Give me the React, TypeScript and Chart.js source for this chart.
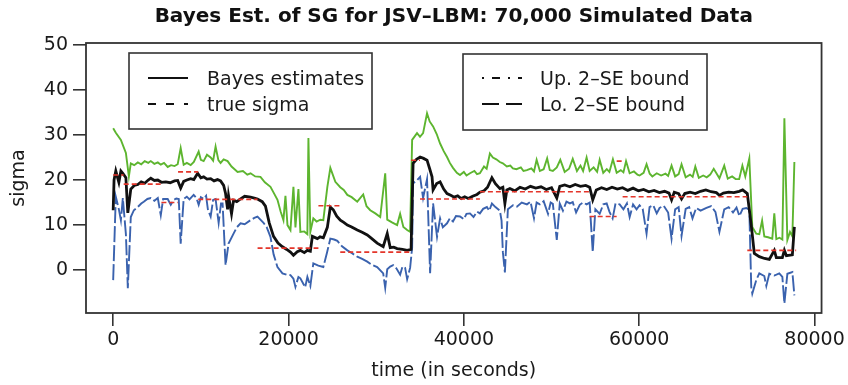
import React, { useEffect, useRef } from "react";
import { Chart, registerables } from "chart.js";

Chart.register(...registerables);

// ---------- data (time in seconds, sigma) ----------
const titleText = "Bayes Est. of SG for JSV–LBM: 70,000 Simulated Data";
const xAxisTitle = "time (in seconds)";
const yAxisTitle = "sigma";
const timeTicks = [0, 20000, 40000, 60000, 80000];
const sigmaTicks = [0, 10, 20, 30, 40, 50];
const legendLeft = ["Bayes estimates", "true sigma"];
const legendRight = ["Up. 2–SE bound", "Lo. 2–SE bound"];

const bayesEstimates: [number, number][] = [
  [0, 13.3], [100, 20], [300, 22], [650, 19.5], [880, 22], [1100, 21.5], [1450, 20.5], [1670, 12.7],
  [2010, 18], [2400, 18.8], [2810, 19], [3200, 19.6], [3600, 19.3], [4000, 20], [4290, 20.4], [4700, 19.9],
  [5090, 20], [5500, 19.5], [6000, 19.6], [6500, 19.4], [7000, 19.8], [7360, 19.9], [7700, 18.2],
  [8040, 19.7], [8400, 20], [8840, 20.3], [9200, 20.1], [9640, 21.5], [10000, 20.5], [10320, 20.7],
  [10700, 20.2], [11120, 20.3], [11500, 19.8], [11900, 20.1], [12250, 19.8], [12600, 18.8], [12820, 17],
  [13050, 13.5], [13160, 16.5], [13500, 12.5], [13730, 15.5], [14100, 15.2], [14530, 15.8], [15000, 16.4],
  [15670, 16.2], [16100, 16], [16460, 15.8], [17000, 15.2], [17370, 14.2], [17800, 10.5], [18290, 7.5],
  [18800, 6], [19310, 5.2], [19800, 4.6], [20220, 4], [20560, 3.3], [21000, 4.1], [21350, 4.4],
  [21800, 3.9], [22150, 4.4], [22490, 4.2], [22720, 7.5], [23290, 7], [23600, 7.4], [23970, 7.2],
  [24430, 9.5], [24770, 14], [25110, 13.4], [25500, 12], [25910, 11.1], [26300, 10.6], [26710, 10],
  [27200, 9.6], [27840, 8.9], [28400, 8.4], [28980, 7.8], [29500, 7], [30110, 6], [30800, 5.2],
  [31260, 8.1], [31600, 5], [32000, 5.1], [32390, 4.8], [33000, 4.6], [33530, 4.4], [33980, 4.6],
  [34100, 15], [34210, 23.7], [34600, 24.6], [35010, 25.1], [35400, 24.8], [35800, 24.4], [36100, 22.5],
  [36370, 20.7], [36490, 17.8], [36900, 19.2], [37290, 19.6], [37700, 18], [38080, 17], [38500, 16.6],
  [38900, 16.2], [39300, 16.5], [39700, 15.9], [40100, 16.3], [40500, 15.9], [41000, 16.4], [41500, 16.8],
  [41830, 17.3], [42300, 17.6], [42700, 18.4], [43200, 20.5], [43600, 19.2], [44110, 18.1], [44450, 18.4],
  [44680, 14.8], [44900, 17.8], [45250, 18.1], [45800, 17.6], [46400, 18.4], [47000, 18], [47600, 18.6],
  [48200, 18.2], [48800, 18.5], [49400, 17.9], [50000, 18.3], [50600, 16], [50940, 18.6], [51500, 18.9],
  [52100, 18.5], [52700, 19], [53300, 18.6], [53900, 18.8], [54350, 18.4], [54700, 15.6], [55100, 17.8],
  [55700, 18.3], [56300, 17.9], [56900, 18.4], [57500, 18], [58100, 18.3], [58700, 17.7], [59300, 18.2],
  [59900, 17.6], [60500, 17.9], [61100, 17.4], [61700, 17.7], [62300, 17.2], [62900, 17.5], [63400, 17.1],
  [63690, 15.6], [64000, 17.3], [64500, 17], [64830, 15.8], [65200, 17], [65800, 17.3], [66400, 17],
  [67000, 17.5], [67600, 17.8], [68200, 17.4], [68800, 17.2], [69150, 16.6], [69600, 17.1], [70200, 17.3],
  [70800, 17.2], [71400, 17.5], [71800, 17.8], [72330, 17], [72780, 10], [73130, 3.7], [73700, 3],
  [74300, 2.6], [74840, 2.4], [75410, 4.4], [75640, 2.8], [76330, 2.8], [76560, 4.4], [76790, 3.2],
  [77470, 3.4], [77700, 9.6],
];

const upperBound: [number, number][] = [
  [0, 31.5], [300, 30.5], [880, 28.9], [1450, 26], [1790, 20.8], [2010, 23.7], [2400, 23.3], [2810, 23.9],
  [3200, 23.5], [3600, 24.2], [4000, 23.8], [4290, 24.2], [4700, 23.6], [5090, 23.9], [5430, 23.4],
  [5800, 23.8], [6220, 22.9], [6600, 23.3], [7000, 23.1], [7360, 23.5], [7700, 27.1], [8040, 23.4],
  [8400, 23.8], [8840, 23.3], [9200, 24], [9750, 26.3], [10000, 24.5], [10320, 24.2], [10700, 25.6],
  [11120, 25], [11400, 24.3], [11680, 27.4], [12000, 24.4], [12250, 23.8], [12600, 24.6], [13050, 24.2],
  [13500, 23], [14190, 21.8], [14800, 22], [15300, 21.2], [15670, 21.5], [16200, 20.8], [16800, 20.7],
  [17300, 19.5], [17940, 18.5], [18300, 17.2], [18740, 15.6], [19100, 13], [19420, 11.1], [19650, 16.5],
  [19880, 10], [20220, 8.9], [20560, 18.5], [20790, 9.5], [21130, 18], [21350, 8.5], [21800, 8.6],
  [22150, 8], [22270, 29.3], [22490, 8.5], [22830, 11.5], [23200, 10.8], [23630, 11.2], [23970, 11.1],
  [24430, 18.5], [24770, 22.7], [25340, 19.6], [25900, 18.4], [26300, 17.8], [26710, 16.7], [27200, 16.2],
  [27840, 15.2], [28520, 16.8], [28900, 14.2], [29320, 13.3], [29900, 12.6], [30460, 11.8], [31030, 21.5],
  [31260, 11.2], [31800, 10.6], [32390, 10], [32730, 12.5], [33100, 9.6], [33530, 8.9], [33870, 8.5],
  [34100, 28.9], [34660, 30.4], [35000, 29.6], [35350, 30.4], [35800, 34.8], [36100, 33], [36490, 31.9],
  [36900, 30.2], [37290, 28.1], [37700, 26.4], [38080, 25.1], [38400, 23.8], [38760, 22.7], [39200, 21.6],
  [39560, 21.1], [40000, 21.8], [40300, 21], [40700, 21.5], [41200, 22], [41500, 21.3], [41830, 21.5],
  [42300, 23], [42600, 22.5], [42970, 25.9], [43310, 25], [43700, 24.6], [44100, 24], [44450, 23.7],
  [44900, 23], [45300, 23.2], [45590, 22.6], [46000, 22.4], [46500, 22.8], [46800, 22], [47190, 22.2],
  [47700, 22.6], [48000, 21.9], [48300, 24.5], [48670, 22], [49100, 22.4], [49500, 24.8], [49800, 22.2],
  [50150, 22], [50600, 22.8], [51000, 24.5], [51500, 21.8], [52000, 22.5], [52420, 24.7], [52900, 22],
  [53300, 23.2], [53600, 22], [54000, 25], [54350, 22], [54800, 22.8], [55200, 21.8], [55490, 24.5],
  [55900, 21.6], [56300, 22.4], [56600, 21.8], [57000, 24.6], [57430, 21.6], [57900, 22.2], [58200, 21.7],
  [58500, 24.2], [58910, 21.5], [59400, 21.9], [59800, 21.2], [60040, 21], [60500, 21.6], [60840, 23.5],
  [61200, 21.4], [61500, 20.8], [62000, 21.5], [62500, 21], [63000, 21.4], [63300, 20.9], [63690, 23.2],
  [64100, 20.8], [64500, 21.3], [64830, 23.5], [65300, 20.6], [65800, 21.2], [66100, 20.7], [66400, 23],
  [66800, 20.5], [67300, 21], [67700, 20.6], [68100, 21.2], [68500, 22.5], [69150, 20.4], [69700, 23.2],
  [70100, 20.3], [70600, 20.8], [71000, 20.2], [71400, 20.2], [71770, 23.2], [72100, 20.8], [72560, 24.8],
  [72900, 9.6], [73350, 8.1], [73700, 8], [74020, 11], [74270, 7.5], [74700, 7.3], [75180, 7],
  [75410, 12.6], [75640, 6.9], [76000, 7.2], [76330, 6.8], [76560, 33.7], [76900, 6.7], [77200, 8.5],
  [77470, 7.5], [77700, 24],
];

const lowerBound: [number, number][] = [
  [0, -2.2], [300, 16.3], [650, 13.5], [880, 11.1], [1100, 16], [1450, 8], [1670, -4], [2010, 11.8],
  [2360, 13.3], [2800, 14], [3200, 14.8], [3490, 15.2], [3900, 15.8], [4290, 16], [4700, 15.4],
  [5090, 16], [5430, 12.2], [5700, 15.8], [6220, 15.8], [6570, 14.5], [6900, 15.6], [7200, 15.9],
  [7480, 15.8], [7700, 5.9], [8040, 15.8], [8400, 16.3], [8700, 15.7], [9180, 16.7], [9500, 16],
  [9750, 14.5], [10000, 16.2], [10320, 15.8], [10600, 16.5], [10800, 13.5], [11120, 11.9], [11400, 15.6],
  [11680, 15.8], [12030, 10.5], [12300, 14.8], [12480, 14.8], [12820, 1.1], [13160, 5.9], [13730, 8.1],
  [14100, 9.5], [14530, 10.4], [15000, 10.2], [15670, 11.1], [16100, 11.6], [16460, 11.9], [17150, 10.5],
  [17500, 9.6], [17940, 7.4], [18300, 3.5], [18740, 0.7], [19310, -0.7], [19800, -1], [20220, -1.1],
  [20560, -1.9], [20790, -3.7], [21130, -1.5], [21350, -1.8], [21900, -3.8], [22150, -1.5], [22490, -3.5],
  [22830, 1.5], [23400, 1], [23970, 0.7], [24400, 4], [24770, 7], [25200, 6.8], [25570, 6.5],
  [26100, 5.3], [26710, 4.4], [27200, 3.8], [27840, 3], [28400, 2.5], [28980, 1.9], [29500, 1.2],
  [30110, 0.7], [30800, -0.7], [31030, -3.9], [31260, 0.2], [31600, 0.8], [31940, 1.1], [32300, 0.4],
  [32730, -1], [33000, 0.8], [33300, 0.5], [33530, -2], [33870, 0.5], [34100, 5], [34210, 19.3],
  [34600, 19.8], [35010, 20.7], [35350, 16], [35800, 20.2], [36150, -0.7], [36490, 14.8], [36940, 7.4],
  [37290, 11.5], [37600, 9.5], [38080, 10.4], [38400, 11.5], [38760, 10.8], [39100, 12], [39560, 11.9],
  [40000, 11.3], [40300, 12.5], [40700, 12.6], [41100, 11.8], [41500, 13], [41830, 12.6], [42200, 13.6],
  [42630, 14], [42900, 13.2], [43200, 14.8], [43600, 14], [44110, 13.2], [44300, 11], [44450, 4],
  [44680, -0.5], [45020, 13.5], [45600, 14.4], [46050, 14.1], [46600, 15], [47190, 14.6], [47600, 15.2],
  [48000, 11.5], [48300, 15], [48670, 14.6], [49100, 15.3], [49600, 12.5], [49900, 15], [50150, 14.7],
  [50600, 6.7], [50940, 14.8], [51300, 13.2], [51700, 15.2], [52100, 14.8], [52420, 15.1], [52800, 12.8],
  [53220, 14.5], [53600, 15], [54000, 14.6], [54350, 15], [54700, 4], [55000, 13.5], [55490, 12.5],
  [55900, 14.6], [56290, 14.8], [56600, 13], [56970, 11.5], [57300, 14.8], [57770, 14.6], [58200, 13.5],
  [58600, 14.8], [58910, 11.8], [59300, 14.6], [59700, 13.5], [60040, 14.4], [60400, 13.6], [60840, 8.1],
  [61180, 14], [61600, 14.4], [62000, 12.6], [62320, 13.8], [62800, 14.3], [63300, 12.8], [63690, 7],
  [64100, 13.5], [64500, 14], [64830, 7.6], [65300, 13.6], [65700, 14], [66080, 11.5], [66500, 13.8],
  [67000, 13.2], [67670, 13.8], [68200, 14.2], [68700, 12.9], [69150, 8.5], [69700, 13.5], [70200, 14],
  [70700, 12.8], [71100, 13.9], [71430, 12], [71800, 13.6], [72220, 13.8], [72560, 13.4], [72780, -3.7],
  [72900, -5.2], [73350, -2.2], [73700, -0.7], [74270, -1.3], [74500, -3.5], [74840, -0.8], [75410, -1.2],
  [75980, -0.7], [76330, -1.5], [76560, -7.4], [76900, -0.8], [77470, -0.4], [77700, -5.6],
];

const trueStart = [0, 1200, 5500, 7400, 9700, 16470, 23410, 25900, 33980, 35000, 41830, 54350, 57430, 58110, 72330];
const trueEnd = [1200, 5500, 7400, 9700, 16470, 23410, 25900, 33980, 35000, 41830, 54350, 57430, 58110, 72330, 77900];
const trueSigma = [21.1, 19.1, 15.0, 21.8, 15.7, 4.9, 14.3, 4.0, 24.4, 15.8, 17.4, 11.9, 24.2, 16.3, 4.4];

// ---------- styles ----------
const GREEN = "#5db52f";
const BLUE = "#3a62ae";
const BLACK = "#111111";
const RED = "#e4352a";
const FRAME = "#333333";
const FONT = "'DejaVu Sans', 'Liberation Sans', sans-serif";

const toPoints = (arr: [number, number][]) => arr.map(([x, y]) => ({ x, y }));

const truePoints = (() => {
  const pts: { x: number; y: number | null }[] = [];
  trueStart.forEach((s, i) => {
    pts.push({ x: s, y: trueSigma[i] });
    pts.push({ x: trueEnd[i], y: trueSigma[i] });
    pts.push({ x: trueEnd[i], y: null });
  });
  return pts;
})();

type Entry = { text: string; dash: number[]; width: number };

function drawLegendBox(
  ctx: CanvasRenderingContext2D,
  box: { l: number; t: number; r: number; b: number },
  lineX: [number, number],
  textX: number,
  entries: Entry[]
) {
  ctx.save();
  ctx.fillStyle = "#ffffff";
  ctx.fillRect(box.l, box.t, box.r - box.l, box.b - box.t);
  ctx.strokeStyle = FRAME;
  ctx.lineWidth = 1.6;
  ctx.setLineDash([]);
  ctx.strokeRect(box.l, box.t, box.r - box.l, box.b - box.t);
  const rows = [78, 104];
  const baselines = [85, 111];
  entries.forEach((e, i) => {
    ctx.beginPath();
    ctx.setLineDash(e.dash);
    ctx.lineWidth = e.width;
    ctx.strokeStyle = BLACK;
    ctx.moveTo(lineX[0], rows[i]);
    ctx.lineTo(lineX[1], rows[i]);
    ctx.stroke();
    ctx.setLineDash([]);
    ctx.fillStyle = "#1a1a1a";
    ctx.font = `19px ${FONT}`;
    ctx.textAlign = "left";
    ctx.textBaseline = "alphabetic";
    ctx.fillText(e.text, textX, baselines[i]);
  });
  ctx.restore();
}

const framePlugin = {
  id: "frameAndLegend",
  afterDatasetsDraw(chart: any) {
    const { ctx, chartArea: a } = chart;
    ctx.save();
    ctx.strokeStyle = FRAME;
    ctx.lineWidth = 1.8;
    ctx.setLineDash([]);
    ctx.strokeRect(a.left, a.top, a.right - a.left, a.bottom - a.top);
    ctx.fillStyle = "#111";
    ctx.font = `bold 20px ${FONT}`;
    ctx.textAlign = "center";
    ctx.textBaseline = "middle";
    ctx.fillText(titleText, (a.left + a.right) / 2, 17);
    ctx.restore();
    drawLegendBox(ctx, { l: 129, t: 53, r: 372, b: 129 }, [148, 188], 207, [
      { text: legendLeft[0], dash: [], width: 2 },
      { text: legendLeft[1], dash: [8, 10], width: 2 },
    ]);
    drawLegendBox(ctx, { l: 463, t: 54, r: 707, b: 130 }, [482, 522], 540, [
      { text: legendRight[0], dash: [2, 8, 8, 8], width: 2 },
      { text: legendRight[1], dash: [17, 7], width: 2 },
    ]);
  },
};

export default function App() {
  const ref = useRef<HTMLCanvasElement>(null);
  useEffect(() => {
    document.body.style.margin = "0";
    const canvas = ref.current!;
    const chart = new Chart(canvas, {
      type: "line",
      data: {
        datasets: [
          {
            label: "true sigma",
            data: truePoints as any,
            borderColor: RED,
            borderWidth: 1.6,
            borderDash: [5, 3],
            pointRadius: 0,
            spanGaps: false,
            tension: 0,
          },
          {
            label: "Bayes estimates",
            data: toPoints(bayesEstimates),
            borderColor: BLACK,
            borderWidth: 2.8,
            pointRadius: 0,
            tension: 0,
          },
          {
            label: "Lo. 2-SE bound",
            data: toPoints(lowerBound),
            borderColor: BLUE,
            borderWidth: 1.9,
            borderDash: [16, 3],
            pointRadius: 0,
            tension: 0,
          },
          {
            label: "Up. 2-SE bound",
            data: toPoints(upperBound),
            borderColor: GREEN,
            borderWidth: 1.9,
            pointRadius: 0,
            tension: 0,
          },
        ],
      },
      options: {
        responsive: false,
        maintainAspectRatio: false,
        animation: false,
        devicePixelRatio: 1,
        layout: { padding: { left: 0, top: 43, right: 25, bottom: 0 } },
        plugins: {
          legend: { display: false },
          tooltip: { enabled: false },
          title: { display: false },
        },
        scales: {
          x: {
            type: "linear",
            min: -3100,
            max: 80800,
            afterFit: (s: any) => {
              s.height = 72;
            },
            afterBuildTicks: (s: any) => {
              s.ticks = timeTicks.map((v) => ({ value: v }));
            },
            grid: {
              display: true,
              drawOnChartArea: false,
              drawTicks: true,
              tickLength: 13,
              color: FRAME,
              lineWidth: 1.6,
            },
            border: { display: false },
            ticks: {
              padding: 3,
              maxRotation: 0,
              autoSkip: false,
              color: "#1a1a1a",
              font: { family: FONT, size: 19 },
              callback: (v: any) => String(v),
            },
            title: {
              display: true,
              text: xAxisTitle,
              color: "#1a1a1a",
              font: { family: FONT, size: 19 },
              padding: { top: 0, bottom: 3 },
            },
          },
          y: {
            type: "linear",
            min: -9.5,
            max: 50.4,
            afterFit: (s: any) => {
              s.width = 86;
            },
            afterBuildTicks: (s: any) => {
              s.ticks = sigmaTicks.map((v) => ({ value: v }));
            },
            grid: {
              display: true,
              drawOnChartArea: false,
              drawTicks: true,
              tickLength: 13,
              color: FRAME,
              lineWidth: 1.6,
            },
            border: { display: false },
            ticks: {
              padding: 5,
              autoSkip: false,
              color: "#1a1a1a",
              font: { family: FONT, size: 19 },
              callback: (v: any) => String(v),
            },
            title: {
              display: true,
              text: yAxisTitle,
              color: "#1a1a1a",
              font: { family: FONT, size: 19 },
              padding: { top: 8, bottom: 0 },
            },
          },
        },
      },
      plugins: [framePlugin],
    });
    return () => chart.destroy();
  }, []);
  return (
    <div style={{ position: "absolute", left: 0, top: 0, width: 848, height: 385 }}>
      <canvas ref={ref} width={848} height={385} style={{ display: "block", width: 848, height: 385 }} />
    </div>
  );
}
